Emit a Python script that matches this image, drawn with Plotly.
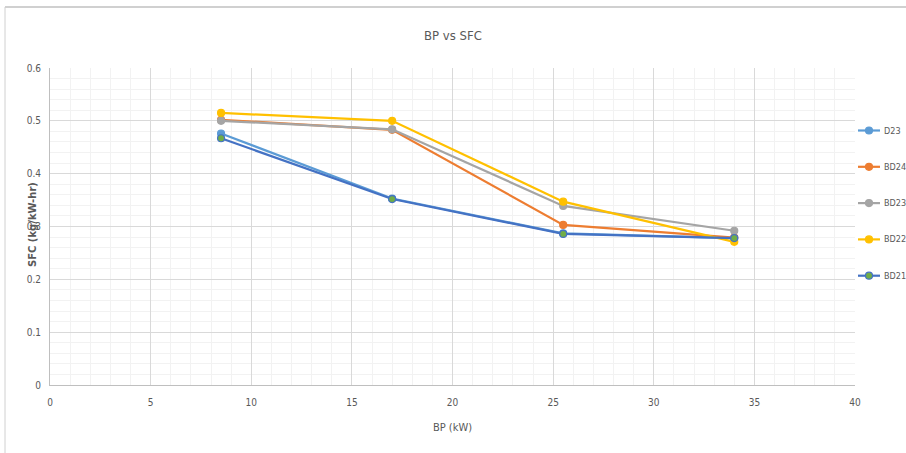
import plotly.graph_objects as go

bp = [8.5, 17, 25.5, 34]
series_names = ["D23", "BD24", "BD23", "BD22", "BD21"]
d23 = [0.476, 0.353, 0.287, 0.278]
bd24 = [0.502, 0.483, 0.303, 0.279]
bd23 = [0.500, 0.484, 0.339, 0.292]
bd22 = [0.515, 0.500, 0.347, 0.271]
bd21 = [0.467, 0.352, 0.286, 0.278]
x_ticks = [0, 5, 10, 15, 20, 25, 30, 35, 40]
y_ticks = [0, 0.1, 0.2, 0.3, 0.4, 0.5, 0.6]

values = [d23, bd24, bd23, bd22, bd21]
line_colors = ["#5B9BD5", "#ED7D31", "#A5A5A5", "#FFC000", "#4472C4"]
marker_colors = ["#5B9BD5", "#ED7D31", "#A5A5A5", "#FFC000", "#70AD47"]

FONT = "DejaVu Sans Condensed, Liberation Sans Narrow, sans-serif"

fig = go.Figure()
for i, (name, ys) in enumerate(zip(series_names, values)):
    fig.add_trace(go.Scatter(
        x=bp, y=ys, name=name, mode="lines+markers", showlegend=False,
        line=dict(color=line_colors[i], width=2.2),
        marker=dict(size=7, color=marker_colors[i],
                    line=dict(color=line_colors[i], width=1.2)),
    ))

W, H = 906, 453
L, R, T, B = 50, 51, 68, 68
pw, ph = W - L - R, H - T - B

def px2paper_x(p):
    return (p - L) / pw

def px2paper_y(p):
    return 1 - (p - T) / ph

fig.update_layout(
    width=W, height=H,
    margin=dict(l=L, r=R, t=T, b=B, pad=0, autoexpand=False),
    paper_bgcolor="white", plot_bgcolor="white",
    font=dict(family=FONT, color="#595959", size=10),
    title=dict(text="BP vs SFC", x=0.5, xanchor="center", y=1 - 35 / H, yanchor="middle",
               font=dict(family=FONT, size=13, color="#595959")),
    xaxis=dict(range=[0, 40], tickvals=x_ticks, showgrid=True, gridcolor="#D9D9D9", gridwidth=1,
               minor=dict(dtick=1, showgrid=True, gridcolor="#F2F2F2", gridwidth=1),
               showline=True, linecolor="#BFBFBF", linewidth=1, zeroline=False,
               ticks="", ticklabelstandoff=8,
               title=dict(text="BP (kW)", font=dict(family=FONT, size=11, color="#595959"), standoff=16)),
    yaxis=dict(range=[0, 0.6], tickvals=y_ticks, ticktext=["0", "0.1", "0.2", "0.3", "0.4", "0.5", "0.6"],
               showgrid=True, gridcolor="#D9D9D9", gridwidth=1,
               minor=dict(dtick=0.02, showgrid=True, gridcolor="#F2F2F2", gridwidth=1),
               showline=True, linecolor="#BFBFBF", linewidth=1, zeroline=False,
               ticks="", ticklabelstandoff=6),
    showlegend=False,
)

# custom legend (right side)
for i, name in enumerate(series_names):
    ypx = 130.5 + 36.3 * i
    yp = px2paper_y(ypx)
    fig.add_shape(type="line", xref="paper", yref="paper",
                  x0=px2paper_x(858), x1=px2paper_x(880), y0=yp, y1=yp,
                  line=dict(color=line_colors[i], width=2.2))
    r = 3.5
    fig.add_shape(type="circle", xref="paper", yref="paper",
                  x0=px2paper_x(869 - r), x1=px2paper_x(869 + r),
                  y0=px2paper_y(ypx + r), y1=px2paper_y(ypx - r),
                  fillcolor=marker_colors[i], line=dict(color=line_colors[i], width=1.2))
    fig.add_annotation(text=name, showarrow=False, xref="paper", yref="paper",
                       x=px2paper_x(882), y=yp, xanchor="left", yanchor="middle",
                       font=dict(family=FONT, size=9, color="#595959"))

fig.add_annotation(
    text="<b>SFC (kg/kW-hr)</b>", textangle=-90, showarrow=False,
    xref="paper", yref="paper", x=px2paper_x(32), y=px2paper_y(225),
    xanchor="center", yanchor="middle",
    font=dict(family="DejaVu Sans, sans-serif", size=10, color="#595959"),
)

# outer frame lines
fig.add_shape(type="line", xref="paper", yref="paper",
              x0=px2paper_x(5), x1=px2paper_x(906), y0=px2paper_y(7), y1=px2paper_y(7),
              line=dict(color="#D0D0D0", width=2))
fig.add_shape(type="line", xref="paper", yref="paper",
              x0=px2paper_x(5), x1=px2paper_x(5), y0=px2paper_y(7), y1=px2paper_y(453),
              line=dict(color="#D0D0D0", width=1))

fig.write_html("out.html")
